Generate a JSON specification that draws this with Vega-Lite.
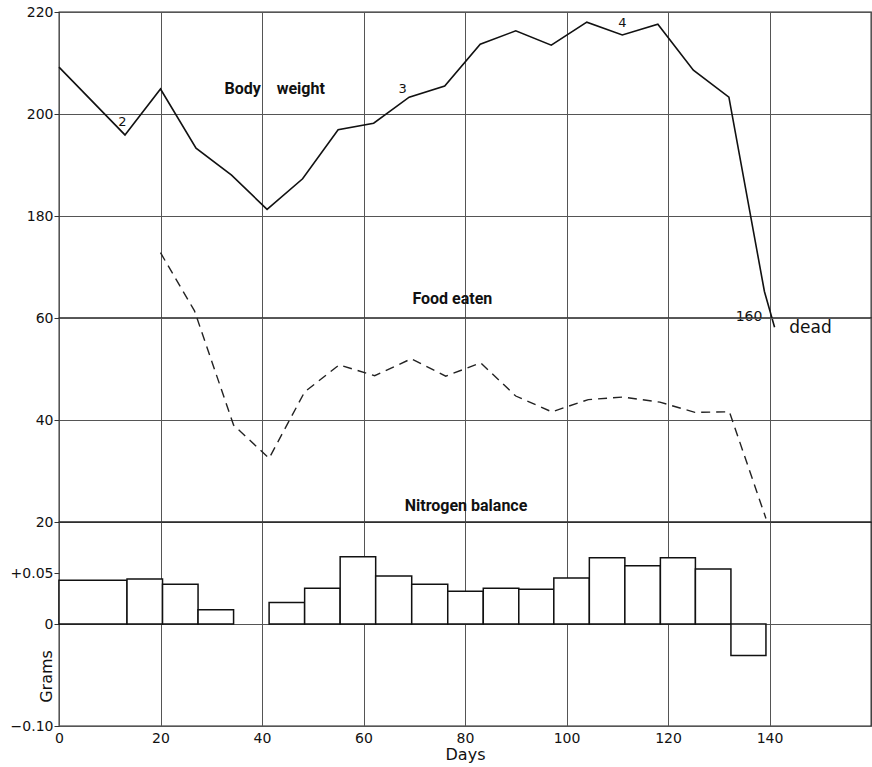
{
  "$schema": "https://vega.github.io/schema/vega-lite/v6.json",
  "background": "white",
  "padding": {"left": 9, "top": 4, "right": 1, "bottom": 4},
  "spacing": 0,
  "bounds": "flush",
  "config": {
    "view": {"stroke": "#222", "strokeWidth": 1.3},
    "axis": {
      "labelFont": "DejaVu Sans", "labelFontSize": 14, "labelColor": "#111",
      "titleFont": "DejaVu Sans", "titleFontWeight": "normal", "titleColor": "#111",
      "gridColor": "#555", "gridWidth": 1, "gridOpacity": 1,
      "tickColor": "#333", "domain": false, "labelFlush": false, "labelOverlap": false
    },
    "text": {"font": "DejaVu Sans", "color": "#111"}
  },
  "resolve": {"scale": {"x": "independent", "y": "independent"}},
  "datasets": {
    "weight": [
      {"day": 0, "weight": 209.2}, {"day": 13, "weight": 195.9}, {"day": 20, "weight": 204.9},
      {"day": 27, "weight": 193.3}, {"day": 34, "weight": 188.0}, {"day": 41, "weight": 181.3},
      {"day": 48, "weight": 187.3}, {"day": 55, "weight": 196.9}, {"day": 62, "weight": 198.2},
      {"day": 69, "weight": 203.3}, {"day": 76, "weight": 205.5}, {"day": 83, "weight": 213.7},
      {"day": 90, "weight": 216.3}, {"day": 97, "weight": 213.5}, {"day": 104, "weight": 218.0},
      {"day": 111, "weight": 215.5}, {"day": 118, "weight": 217.6}, {"day": 125, "weight": 208.6},
      {"day": 132, "weight": 203.3}, {"day": 139, "weight": 165.2}, {"day": 141, "weight": 158.2}
    ],
    "food": [
      {"day": 20, "food": 72.8}, {"day": 26.7, "food": 61.4}, {"day": 34.4, "food": 39.0},
      {"day": 41.4, "food": 32.5}, {"day": 48.4, "food": 45.5}, {"day": 55.2, "food": 50.8},
      {"day": 62.2, "food": 48.7}, {"day": 69.4, "food": 52.0}, {"day": 76.2, "food": 48.6},
      {"day": 83.1, "food": 51.2}, {"day": 90, "food": 44.7}, {"day": 97.1, "food": 41.6},
      {"day": 104.3, "food": 44.0}, {"day": 111.2, "food": 44.5}, {"day": 118.4, "food": 43.5},
      {"day": 125.3, "food": 41.5}, {"day": 132.1, "food": 41.6}, {"day": 139.3, "food": 20.7}
    ],
    "nitrogen": [
      {"start": 0, "end": 13.4, "value": 0.043},
      {"start": 13.4, "end": 20.4, "value": 0.044},
      {"start": 20.4, "end": 27.4, "value": 0.039},
      {"start": 27.4, "end": 34.4, "value": 0.014},
      {"start": 41.4, "end": 48.4, "value": 0.021},
      {"start": 48.4, "end": 55.4, "value": 0.035},
      {"start": 55.4, "end": 62.4, "value": 0.066},
      {"start": 62.4, "end": 69.5, "value": 0.047},
      {"start": 69.5, "end": 76.6, "value": 0.039},
      {"start": 76.6, "end": 83.6, "value": 0.032},
      {"start": 83.6, "end": 90.6, "value": 0.035},
      {"start": 90.6, "end": 97.5, "value": 0.034},
      {"start": 97.5, "end": 104.5, "value": 0.045},
      {"start": 104.5, "end": 111.5, "value": 0.065},
      {"start": 111.5, "end": 118.5, "value": 0.057},
      {"start": 118.5, "end": 125.4, "value": 0.065},
      {"start": 125.4, "end": 132.4, "value": 0.054},
      {"start": 132.4, "end": 139.3, "value": -0.031}
    ]
  },
  "vconcat": [
    {
      "width": 812,
      "height": 306,
      "encoding": {
        "x": {"field": "day", "type": "quantitative",
          "scale": {"domain": [0, 160], "nice": false, "zero": false},
          "axis": {"labels": false, "ticks": false, "title": null, "grid": true, "values": [0, 20, 40, 60, 80, 100, 120, 140, 160]}},
        "y": {"field": "weight", "type": "quantitative",
          "scale": {"domain": [160, 220], "nice": false, "zero": false},
          "axis": {"values": [180, 200, 220], "grid": true, "title": null, "tickSize": 5, "labelPadding": 1}}
      },
      "layer": [
        {
          "data": {"name": "weight"},
          "mark": {"type": "line", "color": "#111", "strokeWidth": 1.6}
        },
        {
          "data": {"values": [
            {"day": 12.5, "weight": 198.5, "label": "2"},
            {"day": 67.7, "weight": 205.0, "label": "3"},
            {"day": 111.0, "weight": 217.8, "label": "4"}
          ]},
          "mark": {"type": "text", "fontSize": 13, "baseline": "middle", "align": "center"},
          "encoding": {"text": {"field": "label"}}
        },
        {
          "data": {"values": [{"day": 42.5, "weight": 205.0, "label": "Body\u00a0\u00a0\u00a0\u00a0weight"}]},
          "mark": {"type": "text", "font": "Roboto", "fontWeight": "bold", "fontSize": 16, "baseline": "middle", "align": "center"},
          "encoding": {"text": {"field": "label"}}
        },
        {
          "data": {"values": [{"day": 138.6, "weight": 160.1, "label": "160"}]},
          "mark": {"type": "text", "fontSize": 14, "baseline": "middle", "align": "right"},
          "encoding": {"text": {"field": "label"}}
        },
        {
          "data": {"values": [{"day": 143.9, "weight": 158.0, "label": "dead"}]},
          "mark": {"type": "text", "fontSize": 17, "baseline": "middle", "align": "left"},
          "encoding": {"text": {"field": "label"}}
        }
      ]
    },
    {
      "width": 812,
      "height": 204,
      "encoding": {
        "x": {"field": "day", "type": "quantitative",
          "scale": {"domain": [0, 160], "nice": false, "zero": false},
          "axis": {"labels": false, "ticks": false, "title": null, "grid": true, "values": [0, 20, 40, 60, 80, 100, 120, 140, 160]}},
        "y": {"field": "food", "type": "quantitative",
          "scale": {"domain": [20, 60], "nice": false, "zero": false},
          "axis": {"values": [20, 40, 60], "grid": true, "title": null, "tickSize": 5, "labelPadding": 1}}
      },
      "layer": [
        {
          "data": {"name": "food"},
          "mark": {"type": "line", "color": "#222", "strokeWidth": 1.4, "strokeDash": [9, 6]}
        },
        {
          "data": {"values": [{"day": 77.5, "food": 63.7, "label": "Food eaten"}]},
          "mark": {"type": "text", "font": "Roboto", "fontWeight": "bold", "fontSize": 16, "baseline": "middle", "align": "center"},
          "encoding": {"text": {"field": "label"}}
        },
        {
          "data": {"values": [{"day": 80.2, "food": 23.1, "label": "Nitrogen balance"}]},
          "mark": {"type": "text", "font": "Roboto", "fontWeight": "bold", "fontSize": 16, "baseline": "middle", "align": "center"},
          "encoding": {"text": {"field": "label"}}
        }
      ]
    },
    {
      "width": 812,
      "height": 204,
      "data": {"name": "nitrogen"},
      "mark": {"type": "rect", "fill": "white", "stroke": "#111", "strokeWidth": 1.5},
      "encoding": {
        "x": {"field": "start", "type": "quantitative",
          "scale": {"domain": [0, 160], "nice": false, "zero": false},
          "axis": {"values": [0, 20, 40, 60, 80, 100, 120, 140], "grid": true, "ticks": false, "labelPadding": 5,
            "title": "Days", "titleFontSize": 16, "titlePadding": 1}},
        "x2": {"field": "end"},
        "y": {"field": "value", "type": "quantitative",
          "scale": {"domain": [-0.1, 0.1], "nice": false, "zero": false},
          "axis": {"values": [-0.1, 0, 0.05], "grid": true, "tickSize": 5, "labelPadding": 1,
            "gridOpacity": {"condition": {"test": "datum.value > 0.01", "value": 0}, "value": 1},
            "labelExpr": "datum.value > 0 ? '+' + format(datum.value, '.2f') : (datum.value < 0 ? format(datum.value, '.2f') : '0')",
            "title": "Grams", "titleFontSize": 16, "titleAngle": -90, "titleX": -13, "titleY": 154,
            "titleBaseline": "middle", "titleAlign": "center"}},
        "y2": {"datum": 0}
      }
    }
  ]
}
